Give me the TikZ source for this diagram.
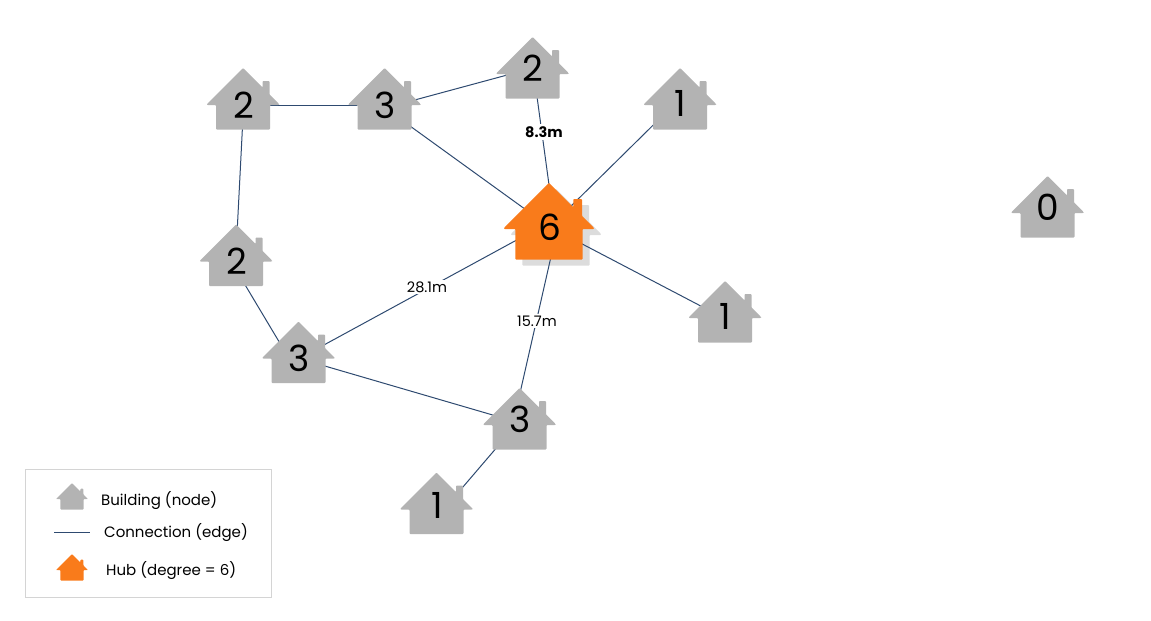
\documentclass[tikz,border=0pt]{standalone}
\usepackage{fontspec}
\setmainfont{Poppins}
\usetikzlibrary{backgrounds}
\definecolor{housegray}{HTML}{B3B3B3}
\definecolor{hubcolor}{HTML}{F97B1B}
\definecolor{shadowgray}{HTML}{DCDCDC}
\definecolor{edgecolor}{HTML}{2E4A70}
\definecolor{legendframe}{HTML}{D4D4D4}

\begin{document}
\begin{tikzpicture}[x=1pt, y=-1pt,
  % House outline around a digit node: colour, digit, height of the digit
  pics/house/.style n args={3}{code={
    \fill[#1, rounded corners=0.8pt]
      (0,-37) -- (19.5,-17.5) -- (19.5,-24) -- (26.5,-24) -- (26.5,-10.5) -- (36,-1) -- (36,0)
      -- (27,0) -- (27,24.5) -- (-27,24.5) -- (-27,0) -- (-36,0) -- (-36,-1) -- cycle;
    \node[digit] (-c) at (0.6,#3) {#2};
  }},
  digit/.style={inner sep=0pt, font=\fontsize{36}{36}\selectfont},
  link/.style={draw=edgecolor, line width=1pt},
  linklabel/.style={fill=white, inner sep=2pt, font=\fontsize{14.5}{14.5}\selectfont},
  keytext/.style={anchor=west, inner sep=0pt, font=\fontsize{15}{15}\selectfont}
]
  \useasboundingbox (0,0) rectangle (1151,621);

  % Houses
  \pic (topleft) at (243,105) {house={housegray}{2}{0}};
  \pic (topmid) at (384.5,105) {house={housegray}{3}{0}};
  \pic (top) at (532.5,74) {house={housegray}{2}{-6}};
  \pic (topright) at (680,105) {house={housegray}{1}{-2}};
  \pic[scale=1.246] (center) at (549,229) {house={hubcolor}{6}{-1.6}};
  \pic (isolated) at (1047.5,213) {house={housegray}{0}{-6}};
  \pic (left) at (236,261.5) {house={housegray}{2}{0}};
  \pic (right) at (725,318) {house={housegray}{1}{-2}};
  \pic (lowleft) at (298.5,358.5) {house={housegray}{3}{0}};
  \pic (low) at (519.5,425) {house={housegray}{3}{-6}};
  \pic (bottom) at (436.5,509.5) {house={housegray}{1}{-4}};

  \begin{scope}[on background layer]
    % Shadow lies under the connections
    \pic[scale=1.246] (centershadow) at (556,235) {house={shadowgray}{}{0}};

    \draw[link] (topleft-c.center) -- (topmid-c.center);
    \draw[link] ([yshift=-3pt]topmid-c.center) -- (top-c.center);
    \draw[link] ([yshift=-3pt]topmid-c.center) -- (center-c.center);
    \draw[link] ([xshift=-5pt]topright-c.center) -- (center-c.center);
    \draw[link] (topleft-c.center) -- ([xshift=-1pt]left-c.center);
    \draw[link] ([xshift=-5.5pt]left-c.center) -- ([xshift=-10pt]lowleft-c.center);
    \draw[link] (lowleft-c.center) -- ([yshift=-4pt]low-c.center);
    \draw[link] ([xshift=1pt]low-c.center) -- ([xshift=10pt]bottom-c.center);
    \draw[link] (center-c.center) -- ([yshift=-3pt]right-c.center);
    \draw[link] (top-c.center) -- ([xshift=5pt]center-c.center);
    \draw[link] ([yshift=5pt]center-c.center) -- (lowleft-c.center);
    \draw[link] ([xshift=8pt]center-c.center) -- ([xshift=-6pt]low-c.center);
  \end{scope}

  % Labels on three of the connections
  \node[linklabel, font=\fontsize{14.5}{14.5}\selectfont\bfseries] (shortlabel) at (544,132) {8.3m};
  \node[linklabel] (longlabel) at (427,287) {28.1m};
  \node[linklabel] (midlabel) at (537,321) {15.7m};

  % Legend
  \node[draw=legendframe, line width=0.8pt, minimum width=246pt, minimum height=128pt,
    inner sep=0pt] (legend) at (148,533) {};
  \pic[scale=0.43] (keyhouse) at (72,499) {house={housegray}{}{0}};
  \coordinate (keyfrom) at (54,532.5);
  \coordinate (keyto) at (90,532.5);
  \draw[link] (keyfrom) -- (keyto);
  \pic[scale=0.43] (keyorange) at (72,570) {house={hubcolor}{}{0}};
  \node[keytext] (keyone) at (101,501) {Building (node)};
  \node[keytext] (keytwo) at (104,533) {Connection (edge)};
  \node[keytext] (keythree) at (106,571) {Hub (degree = 6)};
\end{tikzpicture}
\end{document}
